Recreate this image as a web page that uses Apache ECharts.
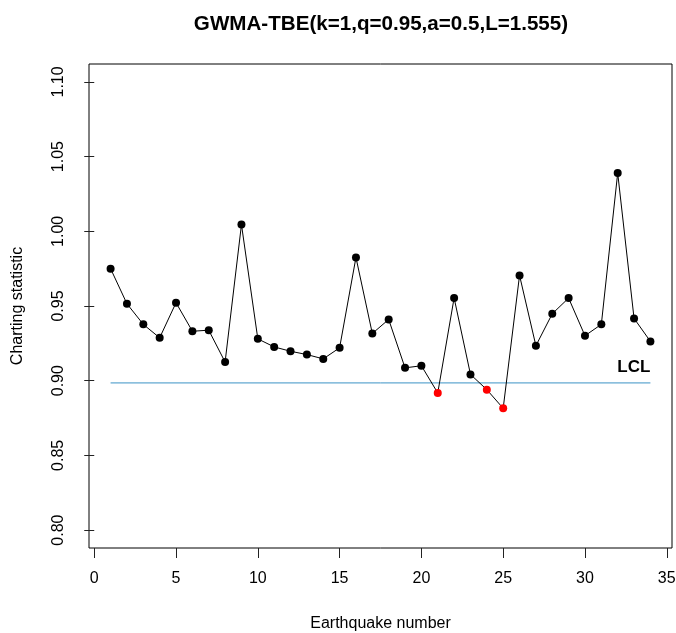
<!DOCTYPE html>
<html>
<head>
<meta charset="utf-8">
<script src="https://cdn.jsdelivr.net/npm/echarts@6/dist/echarts.min.js"></script>
<style>
  html, body { margin: 0; padding: 0; background: #fff; }
  #chart { width: 676px; height: 633px; }
</style>
</head>
<body>
<div id="chart"></div>
<script>
// ---- Data ----
const titleText = 'GWMA-TBE(k=1,q=0.95,a=0.5,L=1.555)';
const earthquakeNo = [1,2,3,4,5,6,7,8,9,10,11,12,13,14,15,16,17,18,19,20,21,22,23,24,25,26,27,28,29,30,31,32,33,34];
const chartingStat = [0.9750,0.9515,0.9377,0.9287,0.9522,0.9331,0.9338,0.9125,1.0045,0.9280,
                      0.9226,0.9197,0.9175,0.9146,0.9220,0.9825,0.9316,0.9410,0.9086,0.9100,
                      0.8918,0.9554,0.9042,0.8940,0.8815,0.9705,0.9234,0.9448,0.9553,0.9301,
                      0.9377,1.0390,0.9417,0.9263];
const lclValue = 0.8985;
const lclRange = [1, 34];
const xTicks = [0,5,10,15,20,25,30,35];
const yTicks = [0.80,0.85,0.90,0.95,1.00,1.05,1.10];

const FONT = '"Liberation Sans", Arial, sans-serif';

const chart = echarts.init(document.getElementById('chart'), null, { renderer: 'canvas' });

const pointData = earthquakeNo.map((x, i) => {
  const v = chartingStat[i];
  const item = { value: [x, v] };
  if (v < lclValue) item.itemStyle = { color: '#ff0000' };
  return item;
});

const lclData = [
  { value: [lclRange[0], lclValue] },
  { value: [lclRange[1], lclValue],
    label: { show: true, formatter: 'LCL', position: 'top', align: 'right', distance: 7,
             color: '#000', fontSize: 17, fontWeight: 'bold', fontFamily: FONT } }
];

chart.setOption({
  animation: false,
  backgroundColor: '#fff',
  title: {
    text: titleText,
    left: 376,
    top: 9,
    textAlign: 'center',
    textStyle: { fontFamily: FONT, fontWeight: 'bold', fontSize: 20.6, color: '#000' }
  },
  grid: {
    left: 89, right: 4, top: 64, bottom: 85,
    show: true, borderColor: '#000', borderWidth: 1, backgroundColor: 'transparent',
    containLabel: false, outerBoundsMode: 'none'
  },
  xAxis: {
    type: 'value',
    min: -0.32, max: 35.32,
    name: 'Earthquake number',
    nameLocation: 'middle',
    nameGap: 68,
    nameTextStyle: { fontFamily: FONT, fontSize: 16, color: '#000' },
    axisLine: { show: false },
    axisTick: { show: true, inside: false, customValues: xTicks, length: 10, lineStyle: { color: '#222', width: 1 } },
    axisLabel: { customValues: xTicks, margin: 23, fontFamily: FONT, fontSize: 16, color: '#000' },
    splitLine: { show: false }
  },
  yAxis: {
    type: 'value',
    min: 0.788, max: 1.112,
    name: 'Charting statistic',
    nameLocation: 'middle',
    nameGap: 63,
    nameTextStyle: { fontFamily: FONT, fontSize: 16, color: '#000' },
    axisLine: { show: false },
    axisTick: { show: true, inside: false, customValues: yTicks, length: 10, lineStyle: { color: '#222', width: 1 } },
    axisLabel: { customValues: yTicks, rotate: 90, margin: 22, fontFamily: FONT, fontSize: 16, color: '#000',
                 formatter: v => v.toFixed(2) },
    splitLine: { show: false }
  },
  series: [
    {
      type: 'line',
      data: lclData,
      symbol: 'circle',
      symbolSize: 1,
      showSymbol: true,
      itemStyle: { color: 'rgba(0,0,0,0)' },
      lineStyle: { color: '#3b93c6', width: 1 },
      z: 1,
      silent: true
    },
    {
      type: 'line',
      data: pointData,
      symbol: 'circle',
      symbolSize: 8,
      showSymbol: true,
      lineStyle: { color: '#000', width: 1 },
      itemStyle: { color: '#000', borderWidth: 0 },
      z: 2
    }
  ]
});
</script>
</body>
</html>
